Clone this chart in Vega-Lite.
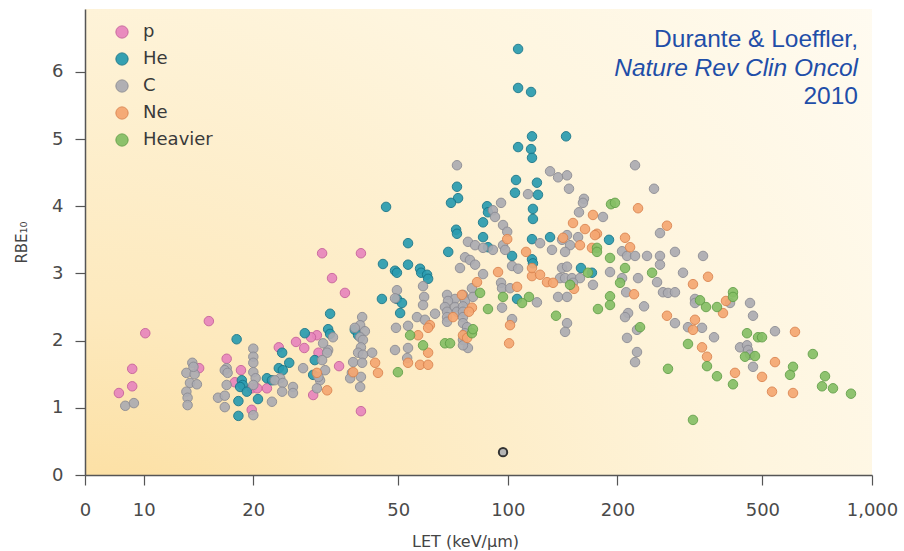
{
  "$schema": "https://vega.github.io/schema/vega-lite/v6.json",
  "width": 787,
  "height": 466,
  "autosize": {"type": "none"},
  "padding": {"left": 85, "top": 9, "right": 32, "bottom": 76},
  "background": "#ffffff",
  "config": {
    "view": {
      "stroke": null,
      "fill": {
        "gradient": "radial",
        "x1": 0, "y1": 1, "r1": 0,
        "x2": 0, "y2": 1, "r2": 1.35,
        "stops": [
          {"offset": 0, "color": "#fbd88e"},
          {"offset": 0.3, "color": "#fde9bd"},
          {"offset": 0.65, "color": "#fef5de"},
          {"offset": 1, "color": "#fffcf4"}
        ]
      }
    },
    "font": "DejaVu Sans"
  },
  "datasets": {
    "points": [
      {"ion":"p","LET":15.1,"RBE":2.29},{"ion":"p","LET":10.1,"RBE":2.11},{"ion":"p","LET":9.3,"RBE":1.58},{"ion":"p","LET":9.3,"RBE":1.32},{"ion":"p","LET":8.55,"RBE":1.22},{"ion":"p","LET":14.2,"RBE":1.59},{"ion":"p","LET":16.9,"RBE":1.73},{"ion":"p","LET":18.5,"RBE":1.56},{"ion":"p","LET":17.8,"RBE":1.38},{"ion":"p","LET":21.8,"RBE":1.29},{"ion":"p","LET":19.8,"RBE":1.29},{"ion":"p","LET":20.5,"RBE":1.29},{"ion":"p","LET":19.8,"RBE":0.97},{"ion":"p","LET":23.5,"RBE":1.9},{"ion":"p","LET":26.2,"RBE":1.98},{"ion":"p","LET":29.9,"RBE":2.08},{"ion":"p","LET":28.8,"RBE":2.05},{"ion":"p","LET":34.4,"RBE":1.62},{"ion":"p","LET":27.6,"RBE":1.89},{"ion":"p","LET":30.2,"RBE":1.82},{"ion":"p","LET":29.2,"RBE":1.19},{"ion":"p","LET":39.5,"RBE":0.95},{"ion":"p","LET":30.9,"RBE":3.3},{"ion":"p","LET":39.5,"RBE":3.3},{"ion":"p","LET":32.9,"RBE":2.93},{"ion":"p","LET":35.7,"RBE":2.71},
      {"ion":"He","LET":18.0,"RBE":2.02},{"ion":"He","LET":18.6,"RBE":1.41},{"ion":"He","LET":18.7,"RBE":1.34},{"ion":"He","LET":18.4,"RBE":1.31},{"ion":"He","LET":18.2,"RBE":1.1},{"ion":"He","LET":18.2,"RBE":0.88},{"ion":"He","LET":19.2,"RBE":1.24},{"ion":"He","LET":20.6,"RBE":1.13},{"ion":"He","LET":21.8,"RBE":1.44},{"ion":"He","LET":22.5,"RBE":1.41},{"ion":"He","LET":24.0,"RBE":1.82},{"ion":"He","LET":25.1,"RBE":1.67},{"ion":"He","LET":23.5,"RBE":1.59},{"ion":"He","LET":24.1,"RBE":1.56},
      {"ion":"He","LET":46.3,"RBE":3.99},{"ion":"He","LET":53.2,"RBE":3.45},{"ion":"He","LET":45.4,"RBE":3.14},{"ion":"He","LET":53.2,"RBE":3.13},{"ion":"He","LET":49.0,"RBE":3.04},{"ion":"He","LET":49.6,"RBE":3.01},{"ion":"He","LET":57.4,"RBE":3.07},{"ion":"He","LET":57.8,"RBE":3.01},{"ion":"He","LET":60.0,"RBE":2.98},{"ion":"He","LET":60.4,"RBE":2.92},{"ion":"He","LET":45.1,"RBE":2.62},{"ion":"He","LET":49.6,"RBE":2.62},{"ion":"He","LET":51.2,"RBE":2.56},{"ion":"He","LET":50.6,"RBE":2.41},{"ion":"He","LET":38.0,"RBE":2.16},{"ion":"He","LET":38.8,"RBE":2.08},{"ion":"He","LET":32.5,"RBE":2.4},{"ion":"He","LET":27.7,"RBE":2.11},{"ion":"He","LET":32.1,"RBE":2.17},{"ion":"He","LET":32.5,"RBE":2.1},{"ion":"He","LET":29.5,"RBE":1.71},{"ion":"He","LET":29.2,"RBE":1.49},{"ion":"He","LET":68.6,"RBE":3.32},{"ion":"He","LET":106,"RBE":2.62},
      {"ion":"He","LET":106.7,"RBE":6.34},{"ion":"He","LET":106.7,"RBE":5.76},{"ion":"He","LET":115.8,"RBE":5.7},{"ion":"He","LET":116.5,"RBE":5.04},{"ion":"He","LET":144.5,"RBE":5.04},{"ion":"He","LET":106.7,"RBE":4.88},{"ion":"He","LET":115.8,"RBE":4.85},{"ion":"He","LET":116.5,"RBE":4.72},{"ion":"He","LET":105.3,"RBE":4.39},{"ion":"He","LET":104.6,"RBE":4.2},{"ion":"He","LET":120.2,"RBE":4.35},{"ion":"He","LET":121,"RBE":4.17},{"ion":"He","LET":72.5,"RBE":4.29},{"ion":"He","LET":73.0,"RBE":4.12},{"ion":"He","LET":69.8,"RBE":4.05},{"ion":"He","LET":87.7,"RBE":4.0},{"ion":"He","LET":88.2,"RBE":3.91},{"ion":"He","LET":85.5,"RBE":3.76},{"ion":"He","LET":85.5,"RBE":3.54},{"ion":"He","LET":72.1,"RBE":3.65},{"ion":"He","LET":72.5,"RBE":3.59},{"ion":"He","LET":117.2,"RBE":3.96},{"ion":"He","LET":117.2,"RBE":3.81},{"ion":"He","LET":102.7,"RBE":3.26},{"ion":"He","LET":116.5,"RBE":3.21},{"ion":"He","LET":117.2,"RBE":3.15},{"ion":"He","LET":116.5,"RBE":3.51},{"ion":"He","LET":88.2,"RBE":3.39},{"ion":"He","LET":130.6,"RBE":3.54},{"ion":"He","LET":189.6,"RBE":3.5},{"ion":"He","LET":158.8,"RBE":3.08},{"ion":"He","LET":170.2,"RBE":3.01},
      {"ion":"C","LET":8.9,"RBE":1.03},{"ion":"C","LET":9.4,"RBE":1.07},{"ion":"C","LET":13.6,"RBE":1.67},{"ion":"C","LET":13.1,"RBE":1.52},{"ion":"C","LET":13.8,"RBE":1.5},{"ion":"C","LET":13.4,"RBE":1.37},{"ion":"C","LET":14.0,"RBE":1.35},{"ion":"C","LET":13.1,"RBE":1.24},{"ion":"C","LET":13.2,"RBE":1.15},{"ion":"C","LET":13.2,"RBE":1.04},{"ion":"C","LET":13.7,"RBE":1.61},{"ion":"C","LET":16.9,"RBE":1.59},{"ion":"C","LET":16.7,"RBE":1.56},{"ion":"C","LET":17.0,"RBE":1.52},{"ion":"C","LET":16.9,"RBE":1.34},{"ion":"C","LET":16.0,"RBE":1.15},{"ion":"C","LET":16.7,"RBE":1.18},{"ion":"C","LET":16.7,"RBE":1.01},{"ion":"C","LET":20.0,"RBE":1.88},{"ion":"C","LET":20.0,"RBE":1.76},{"ion":"C","LET":20.0,"RBE":1.67},{"ion":"C","LET":20.0,"RBE":1.53},{"ion":"C","LET":20.3,"RBE":1.44},{"ion":"C","LET":20.0,"RBE":1.34},{"ion":"C","LET":20.0,"RBE":0.89},{"ion":"C","LET":22.5,"RBE":1.09},{"ion":"C","LET":23.7,"RBE":1.44},{"ion":"C","LET":22.9,"RBE":1.41},{"ion":"C","LET":24.1,"RBE":1.37},{"ion":"C","LET":24.0,"RBE":1.24},{"ion":"C","LET":25.7,"RBE":1.31},{"ion":"C","LET":25.7,"RBE":1.22},
      {"ion":"C","LET":58.5,"RBE":2.81},{"ion":"C","LET":95.8,"RBE":2.86},{"ion":"C","LET":96.4,"RBE":2.78},{"ion":"C","LET":101.4,"RBE":2.78},{"ion":"C","LET":79.7,"RBE":2.78},{"ion":"C","LET":68.1,"RBE":2.68},{"ion":"C","LET":71.6,"RBE":2.62},{"ion":"C","LET":68.5,"RBE":2.59},{"ion":"C","LET":75.3,"RBE":2.68},{"ion":"C","LET":76.3,"RBE":2.59},{"ion":"C","LET":80.2,"RBE":2.65},{"ion":"C","LET":120.2,"RBE":2.57},{"ion":"C","LET":96.4,"RBE":2.49},{"ion":"C","LET":67.2,"RBE":2.5},{"ion":"C","LET":68.1,"RBE":2.43},{"ion":"C","LET":71.6,"RBE":2.5},{"ion":"C","LET":72.5,"RBE":2.43},{"ion":"C","LET":68.1,"RBE":2.35},{"ion":"C","LET":68.1,"RBE":2.28},{"ion":"C","LET":75.3,"RBE":2.51},{"ion":"C","LET":75.3,"RBE":2.43},{"ion":"C","LET":75.3,"RBE":2.35},{"ion":"C","LET":63.1,"RBE":2.4},{"ion":"C","LET":58.9,"RBE":2.65},{"ion":"C","LET":58.5,"RBE":2.53},{"ion":"C","LET":49.6,"RBE":2.75},{"ion":"C","LET":49.0,"RBE":2.63},{"ion":"C","LET":56.3,"RBE":2.35},{"ion":"C","LET":59.2,"RBE":2.31},{"ion":"C","LET":53.2,"RBE":2.22},{"ion":"C","LET":49.3,"RBE":2.19},{"ion":"C","LET":53.2,"RBE":1.89},{"ion":"C","LET":49.0,"RBE":1.86},{"ion":"C","LET":52.9,"RBE":1.74},{"ion":"C","LET":75.3,"RBE":2.26},{"ion":"C","LET":77.3,"RBE":2.2},{"ion":"C","LET":76.3,"RBE":2.11},{"ion":"C","LET":75.3,"RBE":2.01},{"ion":"C","LET":77.7,"RBE":1.89},{"ion":"C","LET":75.3,"RBE":1.93},{"ion":"C","LET":102.7,"RBE":2.32},
      {"ion":"C","LET":39.8,"RBE":2.35},{"ion":"C","LET":39.3,"RBE":2.23},{"ion":"C","LET":38.0,"RBE":2.19},{"ion":"C","LET":40.5,"RBE":2.14},{"ion":"C","LET":39.3,"RBE":2.05},{"ion":"C","LET":40.0,"RBE":2.01},{"ion":"C","LET":39.5,"RBE":1.9},{"ion":"C","LET":38.8,"RBE":1.82},{"ion":"C","LET":40.0,"RBE":1.79},{"ion":"C","LET":42.4,"RBE":1.82},{"ion":"C","LET":37.6,"RBE":1.68},{"ion":"C","LET":39.8,"RBE":1.67},{"ion":"C","LET":39.5,"RBE":1.46},{"ion":"C","LET":39.3,"RBE":1.31},{"ion":"C","LET":33.1,"RBE":2.05},{"ion":"C","LET":32.1,"RBE":1.86},{"ion":"C","LET":31.1,"RBE":1.96},{"ion":"C","LET":31.9,"RBE":1.82},{"ion":"C","LET":30.9,"RBE":1.71},{"ion":"C","LET":31.5,"RBE":1.56},{"ion":"C","LET":30.5,"RBE":1.41},{"ion":"C","LET":29.9,"RBE":1.29},{"ion":"C","LET":30.2,"RBE":1.46},{"ion":"C","LET":27.4,"RBE":1.59},{"ion":"C","LET":37.3,"RBE":1.52},{"ion":"C","LET":36.9,"RBE":1.44},
      {"ion":"C","LET":72.5,"RBE":4.61},{"ion":"C","LET":113.6,"RBE":4.18},{"ion":"C","LET":95.8,"RBE":4.05},{"ion":"C","LET":91.0,"RBE":3.94},{"ion":"C","LET":92.2,"RBE":3.84},{"ion":"C","LET":97.0,"RBE":3.72},{"ion":"C","LET":99.6,"RBE":3.62},{"ion":"C","LET":77.7,"RBE":3.47},{"ion":"C","LET":81.3,"RBE":3.42},{"ion":"C","LET":85.5,"RBE":3.38},{"ion":"C","LET":91.0,"RBE":3.35},{"ion":"C","LET":97.0,"RBE":3.42},{"ion":"C","LET":98.3,"RBE":3.35},{"ion":"C","LET":76.3,"RBE":3.24},{"ion":"C","LET":78.7,"RBE":3.2},{"ion":"C","LET":81.3,"RBE":3.13},{"ion":"C","LET":73.9,"RBE":3.08},{"ion":"C","LET":102.7,"RBE":3.11},{"ion":"C","LET":106.7,"RBE":3.07},{"ion":"C","LET":85.5,"RBE":2.99},
      {"ion":"C","LET":223.5,"RBE":4.61},{"ion":"C","LET":130.6,"RBE":4.52},{"ion":"C","LET":137.4,"RBE":4.43},{"ion":"C","LET":145.4,"RBE":4.46},{"ion":"C","LET":147.2,"RBE":4.26},{"ion":"C","LET":252,"RBE":4.26},{"ion":"C","LET":161.8,"RBE":4.11},{"ion":"C","LET":160.8,"RBE":4.05},{"ion":"C","LET":156.8,"RBE":3.91},{"ion":"C","LET":182.5,"RBE":3.84},{"ion":"C","LET":261.7,"RBE":3.6},{"ion":"C","LET":145.4,"RBE":3.57},{"ion":"C","LET":140.9,"RBE":3.5},{"ion":"C","LET":155.9,"RBE":3.54},{"ion":"C","LET":148.2,"RBE":3.42},{"ion":"C","LET":132.2,"RBE":3.35},{"ion":"C","LET":143.6,"RBE":3.32},{"ion":"C","LET":205.9,"RBE":3.33},{"ion":"C","LET":212.5,"RBE":3.26},{"ion":"C","LET":223.5,"RBE":3.26},{"ion":"C","LET":241.1,"RBE":3.26},{"ion":"C","LET":261.7,"RBE":3.26},{"ion":"C","LET":261.7,"RBE":3.13},{"ion":"C","LET":287.7,"RBE":3.32},{"ion":"C","LET":122.6,"RBE":3.45},{"ion":"C","LET":140.9,"RBE":3.08},{"ion":"C","LET":145.4,"RBE":3.1},{"ion":"C","LET":139.1,"RBE":2.93},{"ion":"C","LET":143.6,"RBE":2.93},{"ion":"C","LET":150,"RBE":2.93},{"ion":"C","LET":157.8,"RBE":2.93},{"ion":"C","LET":151,"RBE":2.86},{"ion":"C","LET":137.4,"RBE":2.65},{"ion":"C","LET":145.4,"RBE":2.65},{"ion":"C","LET":171.3,"RBE":2.83},{"ion":"C","LET":190.8,"RBE":3.02},{"ion":"C","LET":205.9,"RBE":2.93},{"ion":"C","LET":227.8,"RBE":2.93},{"ion":"C","LET":256.9,"RBE":2.87},{"ion":"C","LET":211.3,"RBE":2.72},{"ion":"C","LET":266.7,"RBE":2.72},{"ion":"C","LET":275.3,"RBE":2.71},{"ion":"C","LET":287.7,"RBE":2.72},{"ion":"C","LET":226.3,"RBE":2.16},{"ion":"C","LET":212.5,"RBE":2.04},{"ion":"C","LET":236.6,"RBE":2.51},{"ion":"C","LET":213.9,"RBE":2.41},{"ion":"C","LET":209.8,"RBE":2.35},{"ion":"C","LET":145.4,"RBE":2.26},{"ion":"C","LET":143.6,"RBE":2.13},{"ion":"C","LET":226.3,"RBE":1.83},{"ion":"C","LET":223.5,"RBE":1.68},{"ion":"C","LET":287.7,"RBE":2.26},
      {"ion":"C","LET":343.6,"RBE":3.26},{"ion":"C","LET":302.7,"RBE":3.01},{"ion":"C","LET":407.5,"RBE":2.56},{"ion":"C","LET":326.5,"RBE":2.62},{"ion":"C","LET":326.5,"RBE":2.56},{"ion":"C","LET":462.4,"RBE":2.56},{"ion":"C","LET":471.3,"RBE":2.37},{"ion":"C","LET":312.4,"RBE":2.2},{"ion":"C","LET":341.4,"RBE":2.19},{"ion":"C","LET":368.3,"RBE":2.05},{"ion":"C","LET":541.5,"RBE":2.14},{"ion":"C","LET":434.1,"RBE":1.9},{"ion":"C","LET":453.7,"RBE":1.93},{"ion":"C","LET":456.6,"RBE":1.86},{"ion":"C","LET":462.4,"RBE":1.79},{"ion":"C","LET":471.3,"RBE":1.61},
      {"ion":"Ne","LET":29.9,"RBE":1.52},{"ion":"Ne","LET":31.9,"RBE":1.26},{"ion":"Ne","LET":37.6,"RBE":1.53},{"ion":"Ne","LET":43.2,"RBE":1.67},{"ion":"Ne","LET":44.0,"RBE":1.52},{"ion":"Ne","LET":61.1,"RBE":2.23},{"ion":"Ne","LET":60.4,"RBE":2.19},{"ion":"Ne","LET":56.7,"RBE":2.08},{"ion":"Ne","LET":60.4,"RBE":1.82},{"ion":"Ne","LET":53.2,"RBE":1.67},{"ion":"Ne","LET":57.4,"RBE":1.64},{"ion":"Ne","LET":60.4,"RBE":1.64},{"ion":"Ne","LET":106,"RBE":2.8},{"ion":"Ne","LET":82.3,"RBE":2.87},{"ion":"Ne","LET":74.8,"RBE":2.68},{"ion":"Ne","LET":79.7,"RBE":2.49},{"ion":"Ne","LET":78.2,"RBE":2.43},{"ion":"Ne","LET":70.7,"RBE":2.35},{"ion":"Ne","LET":75.3,"RBE":2.08},{"ion":"Ne","LET":77.3,"RBE":2.04},{"ion":"Ne","LET":101.4,"RBE":2.23},{"ion":"Ne","LET":100.8,"RBE":1.96},{"ion":"Ne","LET":99.6,"RBE":3.51},{"ion":"Ne","LET":112.2,"RBE":3.32},{"ion":"Ne","LET":94.0,"RBE":3.02},{"ion":"Ne","LET":116.5,"RBE":2.96},{"ion":"Ne","LET":116.5,"RBE":3.08},
      {"ion":"Ne","LET":227.8,"RBE":3.97},{"ion":"Ne","LET":171.3,"RBE":3.87},{"ion":"Ne","LET":151,"RBE":3.75},{"ion":"Ne","LET":162.9,"RBE":3.66},{"ion":"Ne","LET":175.7,"RBE":3.59},{"ion":"Ne","LET":273.5,"RBE":3.71},{"ion":"Ne","LET":141.8,"RBE":3.53},{"ion":"Ne","LET":209.8,"RBE":3.53},{"ion":"Ne","LET":216.6,"RBE":3.39},{"ion":"Ne","LET":170.2,"RBE":3.38},{"ion":"Ne","LET":173.5,"RBE":3.57},{"ion":"Ne","LET":157.8,"RBE":3.42},{"ion":"Ne","LET":122.6,"RBE":2.98},{"ion":"Ne","LET":128.1,"RBE":2.87},{"ion":"Ne","LET":133.1,"RBE":2.86},{"ion":"Ne","LET":152,"RBE":2.77},{"ion":"Ne","LET":222.1,"RBE":2.69},{"ion":"Ne","LET":273.5,"RBE":2.37},
      {"ion":"Ne","LET":354.6,"RBE":2.95},{"ion":"Ne","LET":322.4,"RBE":2.84},{"ion":"Ne","LET":397.2,"RBE":2.59},{"ion":"Ne","LET":389.8,"RBE":2.41},{"ion":"Ne","LET":326.5,"RBE":2.31},{"ion":"Ne","LET":322.4,"RBE":2.16},{"ion":"Ne","LET":341.4,"RBE":1.9},{"ion":"Ne","LET":352.3,"RBE":1.76},{"ion":"Ne","LET":614.5,"RBE":2.13},{"ion":"Ne","LET":541.5,"RBE":1.68},{"ion":"Ne","LET":420.5,"RBE":1.52},{"ion":"Ne","LET":498.9,"RBE":1.46},{"ion":"Ne","LET":531.4,"RBE":1.24},{"ion":"Ne","LET":606.9,"RBE":1.22},
      {"ion":"Heavier","LET":53.9,"RBE":2.08},{"ion":"Heavier","LET":58.5,"RBE":1.93},{"ion":"Heavier","LET":49.9,"RBE":1.53},{"ion":"Heavier","LET":79.7,"RBE":2.11},{"ion":"Heavier","LET":80.2,"RBE":2.17},{"ion":"Heavier","LET":67.2,"RBE":1.96},{"ion":"Heavier","LET":69.4,"RBE":1.96},{"ion":"Heavier","LET":83.9,"RBE":2.71},{"ion":"Heavier","LET":97.0,"RBE":2.65},{"ion":"Heavier","LET":114.3,"RBE":2.65},{"ion":"Heavier","LET":109.4,"RBE":2.56},{"ion":"Heavier","LET":88.2,"RBE":2.47},
      {"ion":"Heavier","LET":192,"RBE":4.03},{"ion":"Heavier","LET":196.9,"RBE":4.05},{"ion":"Heavier","LET":175.7,"RBE":3.38},{"ion":"Heavier","LET":175.7,"RBE":3.32},{"ion":"Heavier","LET":190.8,"RBE":3.23},{"ion":"Heavier","LET":166,"RBE":3.01},{"ion":"Heavier","LET":148.2,"RBE":2.83},{"ion":"Heavier","LET":203.3,"RBE":2.86},{"ion":"Heavier","LET":248.9,"RBE":3.01},{"ion":"Heavier","LET":209.8,"RBE":3.08},{"ion":"Heavier","LET":190.8,"RBE":2.66},{"ion":"Heavier","LET":190.8,"RBE":2.53},{"ion":"Heavier","LET":176.8,"RBE":2.47},{"ion":"Heavier","LET":135.6,"RBE":2.37},{"ion":"Heavier","LET":230.7,"RBE":2.2},{"ion":"Heavier","LET":275.3,"RBE":1.58},
      {"ion":"Heavier","LET":415.2,"RBE":2.72},{"ion":"Heavier","LET":415.2,"RBE":2.65},{"ion":"Heavier","LET":337.1,"RBE":2.6},{"ion":"Heavier","LET":350.1,"RBE":2.5},{"ion":"Heavier","LET":375.3,"RBE":2.5},{"ion":"Heavier","LET":312.4,"RBE":1.95},{"ion":"Heavier","LET":352.3,"RBE":1.62},{"ion":"Heavier","LET":453.7,"RBE":2.11},{"ion":"Heavier","LET":486.4,"RBE":2.05},{"ion":"Heavier","LET":498.9,"RBE":2.05},{"ion":"Heavier","LET":448,"RBE":1.76},{"ion":"Heavier","LET":477.2,"RBE":1.77},{"ion":"Heavier","LET":688,"RBE":1.8},{"ion":"Heavier","LET":606.9,"RBE":1.61},{"ion":"Heavier","LET":595.5,"RBE":1.49},{"ion":"Heavier","LET":375.3,"RBE":1.47},{"ion":"Heavier","LET":415.2,"RBE":1.35},{"ion":"Heavier","LET":743,"RBE":1.47},{"ion":"Heavier","LET":729,"RBE":1.32},{"ion":"Heavier","LET":781.5,"RBE":1.29},{"ion":"Heavier","LET":875.6,"RBE":1.21},{"ion":"Heavier","LET":322.4,"RBE":0.82}
    ],
    "marked": [{"LET": 97, "RBE": 0.34}],
    "notes": [
      {"LET": 915, "RBE": 6.374, "label": "Durante & Loeffler,", "italic": false},
      {"LET": 915, "RBE": 5.945, "label": "Nature Rev Clin Oncol", "italic": true},
      {"LET": 915, "RBE": 5.52, "label": "2010", "italic": false}
    ]
  },
  "encoding": {
    "x": {
      "field": "LET", "type": "quantitative",
      "scale": {"type": "log", "domain": [6.9, 1000], "nice": false},
      "axis": {
        "title": "LET (keV/µm)",
        "values": [6.9, 10, 20, 50, 100, 200, 500, 1000],
        "labelExpr": "datum.value < 8 ? '0' : format(datum.value, ',')",
        "grid": false, "labelFlush": false, "labelOverlap": false,
        "domainColor": "#555555", "domainWidth": 1.5,
        "tickColor": "#555555", "tickWidth": 1.2, "tickSize": 10,
        "labelFont": "DejaVu Sans", "labelFontSize": 18, "labelColor": "#4a4a4a", "labelPadding": 16,
        "titleFont": "DejaVu Sans", "titleFontSize": 16, "titleFontWeight": "normal", "titleColor": "#444444",
        "titleX": 380, "titleY": 66, "titleBaseline": "middle", "titleAnchor": "start", "titleAlign": "center"
      }
    },
    "y": {
      "field": "RBE", "type": "quantitative",
      "scale": {"domain": [0, 6.935], "nice": false, "zero": false},
      "axis": {
        "title": "RBE₁₀",
        "values": [0, 1, 2, 3, 4, 5, 6],
        "grid": false,
        "domainColor": "#555555", "domainWidth": 1.5,
        "tickColor": "#555555", "tickWidth": 1.2, "tickSize": 10,
        "labelFont": "DejaVu Sans", "labelFontSize": 18, "labelColor": "#4a4a4a", "labelPadding": 12,
        "titleFont": "DejaVu Sans", "titleFontSize": 15, "titleFontWeight": "normal", "titleColor": "#444444",
        "titleX": -64, "titleY": 233, "titleBaseline": "middle", "titleAngle": 270, "titleAlign": "center", "titleAnchor": "start"
      }
    }
  },
  "layer": [
    {
      "data": {"name": "points"},
      "mark": {"type": "point", "shape": "circle", "filled": true, "size": 90, "strokeWidth": 1, "opacity": 0.92},
      "encoding": {
        "fill": {
          "field": "ion", "type": "nominal",
          "scale": {"domain": ["p", "He", "C", "Ne", "Heavier"], "range": ["#e886bd", "#2a9cb0", "#acacb2", "#f5a772", "#86bf66"]},
          "legend": {
            "title": null, "orient": "none", "legendX": 28, "legendY": 14,
            "symbolType": "circle", "symbolSize": 150, "symbolOpacity": 0.95,
            "symbolStrokeWidth": 1, "symbolStrokeColor": "#999999",
            "labelFont": "DejaVu Sans", "labelFontSize": 18, "labelColor": "#3a3a3a",
            "labelOffset": 12, "rowPadding": 9, "padding": 0
          }
        },
        "stroke": {
          "field": "ion", "type": "nominal",
          "scale": {"domain": ["p", "He", "C", "Ne", "Heavier"], "range": ["#c7619c", "#17768a", "#8c8c94", "#dc8550", "#62a048"]},
          "legend": null
        }
      }
    },
    {
      "data": {"name": "marked"},
      "mark": {"type": "point", "shape": "circle", "filled": true, "size": 70, "fill": "#b5b5b5", "stroke": "#333333", "strokeWidth": 2, "opacity": 1}
    },
    {
      "data": {"name": "notes"},
      "transform": [{"filter": "!datum.italic"}],
      "mark": {"type": "text", "align": "right", "baseline": "alphabetic", "font": "Liberation Sans", "fontSize": 24.5, "color": "#1f4ea8"},
      "encoding": {"text": {"field": "label"}}
    },
    {
      "data": {"name": "notes"},
      "transform": [{"filter": "datum.italic"}],
      "mark": {"type": "text", "align": "right", "baseline": "alphabetic", "font": "Liberation Sans", "fontSize": 24.5, "fontStyle": "italic", "color": "#1f4ea8"},
      "encoding": {"text": {"field": "label"}}
    }
  ]
}
